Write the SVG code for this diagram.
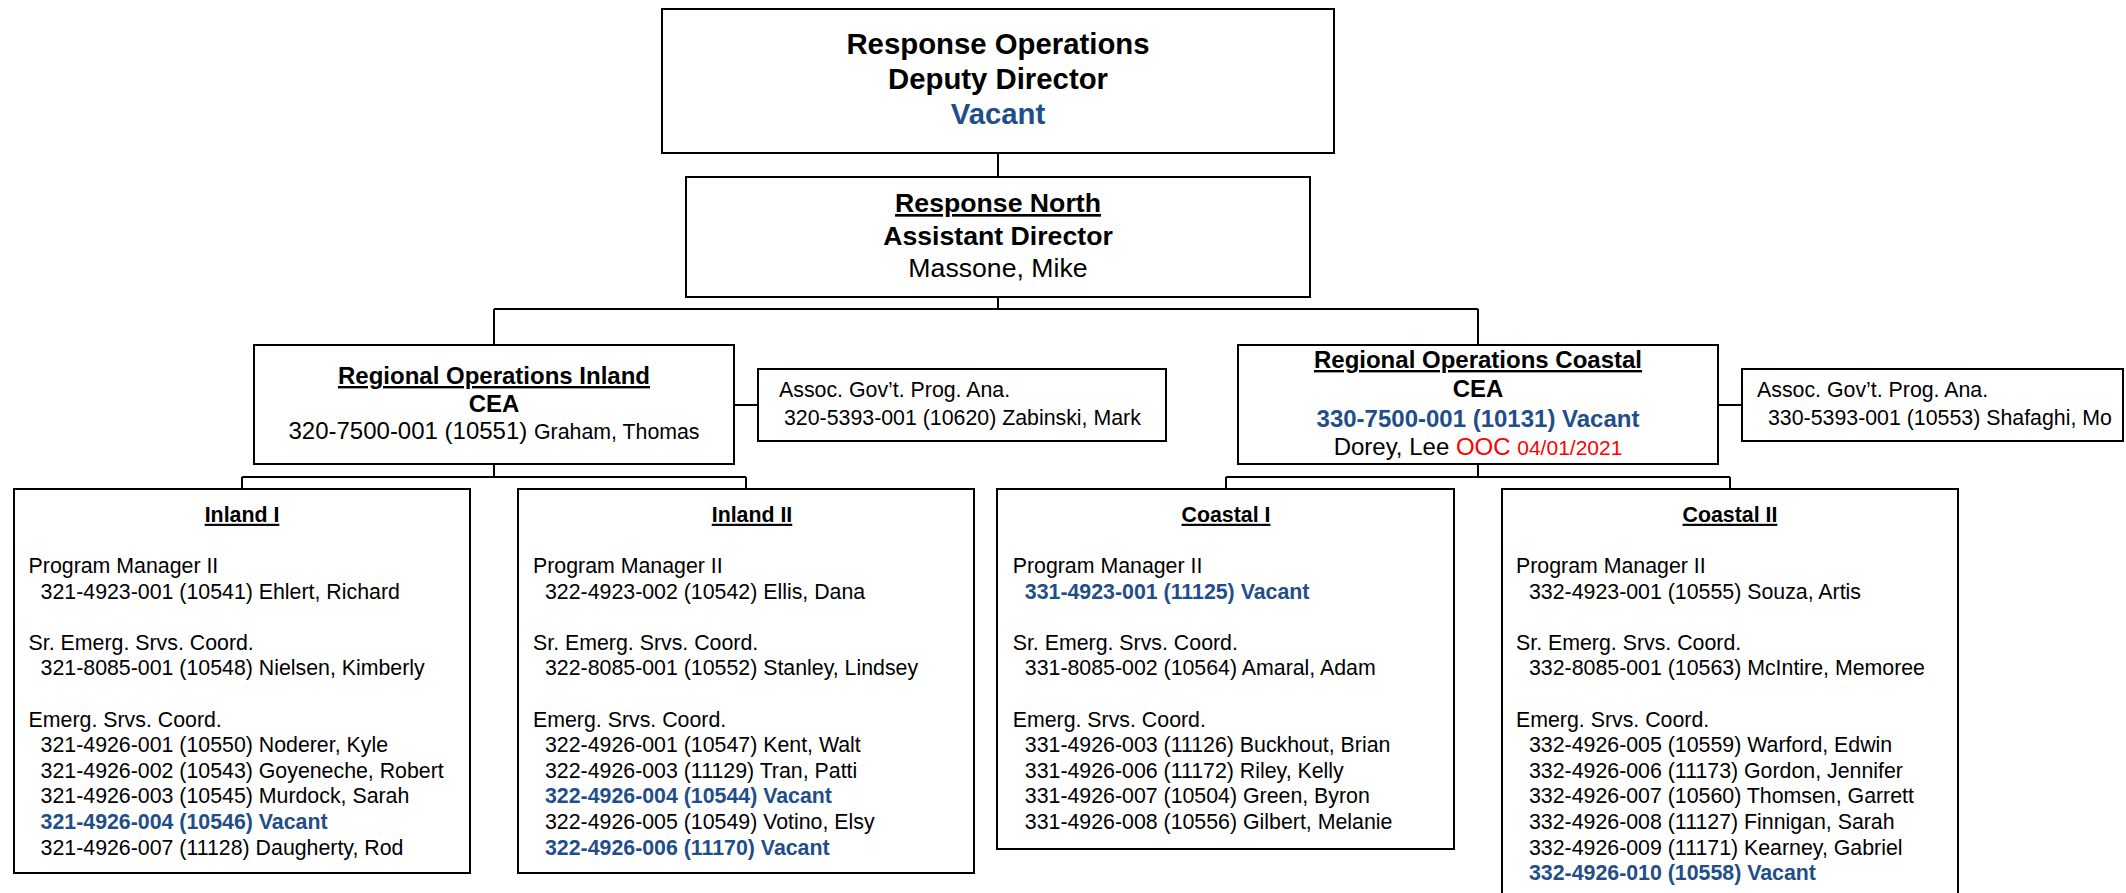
<svg xmlns="http://www.w3.org/2000/svg" width="2126" height="893" viewBox="0 0 2126 893">
<style>
text{font-family:"Liberation Sans",Arial,Helvetica,sans-serif;fill:#000}
.box{fill:#fff;stroke:#000;stroke-width:2}
.c{fill:none;stroke:#000;stroke-width:2}
.s{font-size:21.33px}
.m{font-size:24px}
.l{font-size:26.67px}
.xl{font-size:29.33px}
.b{font-weight:bold}
.blue{fill:#1F4E89}
.red{fill:#FF0000}
.u{text-decoration:underline}
.mid{text-anchor:middle}
</style>
<rect width="2126" height="893" fill="#fff"/>
<g id="connectors">
<path class="c" d="M998 153V177M998 297V309M494 309H1478M494 309V345M1478 309V345"/>
<path class="c" d="M494 464V477M242 477H746M242 477V489M746 477V489M734 405H758"/>
<path class="c" d="M1478 464V477M1226 477H1730M1226 477V489M1730 477V489M1718 405H1742"/>
</g>
<g id="deputy-director">
<rect class="box" x="662" y="9" width="672" height="144"/>
<text class="xl b mid" x="998" y="54">Response Operations</text>
<text class="xl b mid" x="998" y="89">Deputy Director</text>
<text class="xl b mid blue" x="998" y="124">Vacant</text>
</g>
<g id="response-north">
<rect class="box" x="686" y="177" width="624" height="120"/>
<text class="l b mid u" x="998" y="212">Response North</text>
<text class="l b mid" x="998" y="245">Assistant Director</text>
<text class="l mid" x="998" y="277">Massone, Mike</text>
</g>
<g id="regional-inland">
<rect class="box" x="254" y="345" width="480" height="119"/>
<text class="m b mid u" x="494" y="384">Regional Operations Inland</text>
<text class="m b mid" x="494" y="412">CEA</text>
<text class="m mid" x="494" y="439">320-7500-001 (10551) <tspan class="s">Graham, Thomas</tspan></text>
</g>
<g id="assoc-inland">
<rect class="box" x="758" y="369" width="408" height="72"/>
<text class="s" x="779" y="397">Assoc. Gov’t. Prog. Ana.</text>
<text class="s" x="784" y="425">320-5393-001 (10620) Zabinski, Mark</text>
</g>
<g id="regional-coastal">
<rect class="box" x="1238" y="345" width="480" height="119"/>
<text class="m b mid u" x="1478" y="368">Regional Operations Coastal</text>
<text class="m b mid" x="1478" y="397">CEA</text>
<text class="m b mid blue" x="1478" y="427">330-7500-001 (10131) Vacant</text>
<text class="m mid" x="1478" y="455">Dorey, Lee <tspan class="red">OOC </tspan><tspan class="red" font-size="21px">04/01/2021</tspan></text>
</g>
<g id="assoc-coastal">
<rect class="box" x="1742" y="369" width="381" height="72"/>
<text class="s" x="1757" y="397">Assoc. Gov’t. Prog. Ana.</text>
<text class="s" x="1768" y="425">330-5393-001 (10553) Shafaghi, Mo</text>
</g>
<g id="inland-1">
<rect class="box" x="14" y="489" width="456" height="384"/>
<text class="s b mid u" x="242" y="521.8">Inland I</text>
<text class="s" x="28.6" y="573">Program Manager II</text>
<text class="s" x="40.6" y="598.6">321-4923-001 (10541) Ehlert, Richard</text>
<text class="s" x="28.6" y="649.8">Sr. Emerg. Srvs. Coord.</text>
<text class="s" x="40.6" y="675.4">321-8085-001 (10548) Nielsen, Kimberly</text>
<text class="s" x="28.6" y="726.6">Emerg. Srvs. Coord.</text>
<text class="s" x="40.6" y="752.2">321-4926-001 (10550) Noderer, Kyle</text>
<text class="s" x="40.6" y="777.8">321-4926-002 (10543) Goyeneche, Robert</text>
<text class="s" x="40.6" y="803.4">321-4926-003 (10545) Murdock, Sarah</text>
<text class="s b blue" x="40.6" y="829">321-4926-004 (10546) Vacant</text>
<text class="s" x="40.6" y="854.6">321-4926-007 (11128) Daugherty, Rod</text>
</g>
<g id="inland-2">
<rect class="box" x="518" y="489" width="456" height="384"/>
<text class="s b mid u" x="752" y="521.8">Inland II</text>
<text class="s" x="533" y="573">Program Manager II</text>
<text class="s" x="545" y="598.6">322-4923-002 (10542) Ellis, Dana</text>
<text class="s" x="533" y="649.8">Sr. Emerg. Srvs. Coord.</text>
<text class="s" x="545" y="675.4">322-8085-001 (10552) Stanley, Lindsey</text>
<text class="s" x="533" y="726.6">Emerg. Srvs. Coord.</text>
<text class="s" x="545" y="752.2">322-4926-001 (10547) Kent, Walt</text>
<text class="s" x="545" y="777.8">322-4926-003 (11129) Tran, Patti</text>
<text class="s b blue" x="545" y="803.4">322-4926-004 (10544) Vacant</text>
<text class="s" x="545" y="829">322-4926-005 (10549) Votino, Elsy</text>
<text class="s b blue" x="545" y="854.6">322-4926-006 (11170) Vacant</text>
</g>
<g id="coastal-1">
<rect class="box" x="997" y="489" width="457" height="360"/>
<text class="s b mid u" x="1226" y="521.8">Coastal I</text>
<text class="s" x="1012.7" y="573">Program Manager II</text>
<text class="s b blue" x="1024.8" y="598.6">331-4923-001 (11125) Vacant</text>
<text class="s" x="1012.7" y="649.8">Sr. Emerg. Srvs. Coord.</text>
<text class="s" x="1024.8" y="675.4">331-8085-002 (10564) Amaral, Adam</text>
<text class="s" x="1012.7" y="726.6">Emerg. Srvs. Coord.</text>
<text class="s" x="1024.8" y="752.2">331-4926-003 (11126) Buckhout, Brian</text>
<text class="s" x="1024.8" y="777.8">331-4926-006 (11172) Riley, Kelly</text>
<text class="s" x="1024.8" y="803.4">331-4926-007 (10504) Green, Byron</text>
<text class="s" x="1024.8" y="829">331-4926-008 (10556) Gilbert, Melanie</text>
</g>
<g id="coastal-2">
<rect class="box" x="1502" y="489" width="456" height="420"/>
<text class="s b mid u" x="1730" y="521.8">Coastal II</text>
<text class="s" x="1516" y="573">Program Manager II</text>
<text class="s" x="1529" y="598.6">332-4923-001 (10555) Souza, Artis</text>
<text class="s" x="1516" y="649.8">Sr. Emerg. Srvs. Coord.</text>
<text class="s" x="1529" y="675.4">332-8085-001 (10563) McIntire, Memoree</text>
<text class="s" x="1516" y="726.6">Emerg. Srvs. Coord.</text>
<text class="s" x="1529" y="752.2">332-4926-005 (10559) Warford, Edwin</text>
<text class="s" x="1529" y="777.8">332-4926-006 (11173) Gordon, Jennifer</text>
<text class="s" x="1529" y="803.4">332-4926-007 (10560) Thomsen, Garrett</text>
<text class="s" x="1529" y="829">332-4926-008 (11127) Finnigan, Sarah</text>
<text class="s" x="1529" y="854.6">332-4926-009 (11171) Kearney, Gabriel</text>
<text class="s b blue" x="1529" y="880.2">332-4926-010 (10558) Vacant</text>
</g>
</svg>
